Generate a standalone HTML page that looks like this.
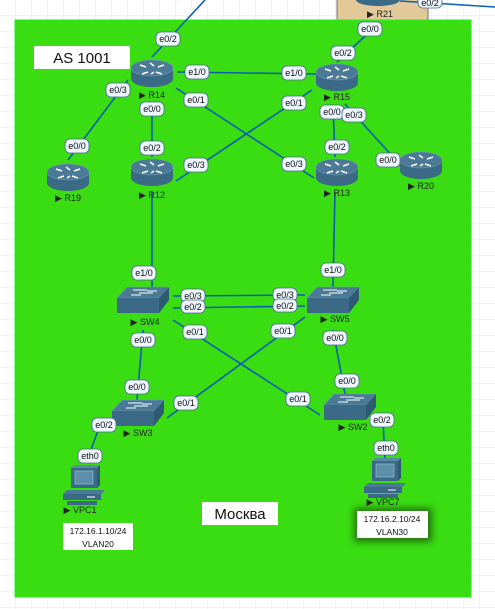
<!DOCTYPE html>
<html><head><meta charset="utf-8"><style>
body{margin:0;width:495px;height:609px;overflow:hidden;background:#fff;}
svg{display:block;font-family:"Liberation Sans",sans-serif;}
.l{fill:none;stroke:#0a5fb0;stroke-width:1.6}
.p rect{fill:#eef6ff;stroke:#4a6a8a;stroke-width:0.8}
.p text{font-size:9px;fill:#111;text-anchor:middle}
.n{font-size:9px;fill:#222;text-anchor:middle}
</style></head><body>
<svg width="495" height="609" viewBox="0 0 495 609">
<defs>
<filter id="bl" x="-30%" y="-50%" width="160%" height="200%"><feGaussianBlur stdDeviation="3.5"/></filter>
<pattern id="g" width="16" height="16" patternUnits="userSpaceOnUse"><path d="M16 0V16H0" fill="none" stroke="#e6e6e6" stroke-width="1"/></pattern>
<g id="rt">
<path d="M-21 -5 V6 A21 8 0 0 0 21 6 V-5 Z" fill="#3b6a86"/>
<ellipse cx="0" cy="-5" rx="21" ry="8" fill="#4b7a96" stroke="#6d9db6" stroke-width="0.6"/>
<path d="M-12 -8 l6 2 M-4 -1 l-6 2 M12 -8 l-6 2 M4 -1 l6 2 M-2 -10 l4 3 M2 -1 l-3 2" stroke="#fff" stroke-width="1.6"/>
</g>
<g id="sw">
<polygon points="10,0 52,0 42,11 0,11" fill="#4b7a96" stroke="#6d9db6" stroke-width="0.6"/>
<rect x="0" y="11" width="42" height="15" fill="#3b6a86"/>
<polygon points="42,11 52,0 52,13 42,26" fill="#2f5a74"/>
<path d="M16 3 h14 M22 6 h14 M14 8 h10 M30 4 h10" stroke="#fff" stroke-width="1"/>
</g>
<g id="pc">
<polygon points="2,0 28,0 31,-3 5,-3" fill="#5a8aa6"/>
<rect x="2" y="0" width="26" height="20" fill="#3b6a86"/>
<polygon points="28,0 31,-3 31,17 28,20" fill="#2f5a74"/>
<rect x="6" y="3" width="18" height="13" fill="#5d8fab" stroke="#9cc" stroke-width="0.6"/>
<polygon points="-6,26 32,26 36,22 -2,22" fill="#4b7a96"/>
<rect x="-6" y="26" width="38" height="6" fill="#3b6a86"/>
<rect x="-2" y="33" width="30" height="4" fill="#3b6a86"/>
<path d="M18 29 h8" stroke="#fff" stroke-width="1"/>
</g>
</defs>
<rect width="495" height="609" fill="url(#g)"/>
<rect x="337" y="-2" width="91" height="22" fill="#e3c99a" stroke="#555" stroke-width="0.8"/>
<path d="M356 -4 V0 A22 6 0 0 0 400 0 V-4 Z" fill="#3b6a86"/>
<text class="n" x="380" y="17">▶ R21</text>
<rect x="15" y="20" width="456" height="577" fill="#3adc12" stroke="#22f022" stroke-width="1"/>
<line class="l" x1="400" y1="1" x2="495" y2="7"/>
<g class="p"><rect x="418" y="-4" width="24" height="12" rx="5"/><text x="430" y="6">e0/2</text></g>
<g class="l">
<line x1="152" y1="57" x2="205" y2="0"/>
<line x1="177" y1="72" x2="316" y2="74"/>
<line x1="176" y1="88" x2="314" y2="178"/>
<line x1="312" y1="90" x2="176" y2="181"/>
<line x1="128" y1="80" x2="68" y2="160"/>
<line x1="152" y1="110" x2="152" y2="157"/>
<line x1="337" y1="62" x2="376" y2="26"/>
<line x1="333" y1="105" x2="335" y2="157"/>
<line x1="345" y1="104" x2="403" y2="168"/>
<line x1="152" y1="192" x2="152" y2="287"/>
<line x1="335" y1="192" x2="333" y2="287"/>
<line x1="173" y1="296" x2="305" y2="295"/>
<line x1="173" y1="308" x2="305" y2="306"/>
<line x1="173" y1="320" x2="320" y2="415"/>
<line x1="305" y1="317" x2="167" y2="418"/>
<line x1="143" y1="330" x2="137" y2="400"/>
<line x1="333" y1="330" x2="345" y2="394"/>
<line x1="100" y1="425" x2="88" y2="458"/>
<line x1="383" y1="420" x2="385" y2="460"/>
</g>
<use href="#rt" x="152" y="73"/><text class="n" x="152" y="98">▶ R14</text>
<use href="#rt" x="337" y="77"/><text class="n" x="337" y="100">▶ R15</text>
<use href="#rt" x="68" y="177"/><text class="n" x="68" y="201">▶ R19</text>
<use href="#rt" x="152" y="172"/><text class="n" x="152" y="198">▶ R12</text>
<use href="#rt" x="337" y="172"/><text class="n" x="337" y="196">▶ R13</text>
<use href="#rt" x="421" y="165"/><text class="n" x="421" y="189">▶ R20</text>
<use href="#sw" x="117" y="287"/><text class="n" x="145" y="325">▶ SW4</text>
<use href="#sw" x="307" y="287"/><text class="n" x="335" y="322">▶ SW5</text>
<use href="#sw" x="112" y="400"/><text class="n" x="138" y="436">▶ SW3</text>
<use href="#sw" x="324" y="394"/><text class="n" x="353" y="430">▶ SW2</text>
<use href="#pc" x="69" y="468"/><text class="n" x="80" y="513">▶ VPC1</text>
<use href="#pc" x="370" y="461"/><text class="n" x="383" y="505">▶ VPC7</text>
<g class="p">
<rect x="156" y="32" width="24" height="14" rx="5"/><text x="168" y="42">e0/2</text>
<rect x="106" y="83" width="24" height="14" rx="5"/><text x="118" y="93">e0/3</text>
<rect x="185" y="65" width="24" height="14" rx="5"/><text x="197" y="75">e1/0</text>
<rect x="184" y="93" width="24" height="14" rx="5"/><text x="196" y="103">e0/1</text>
<rect x="140" y="102" width="24" height="14" rx="5"/><text x="152" y="112">e0/0</text>
<rect x="65" y="139" width="24" height="14" rx="5"/><text x="77" y="149">e0/0</text>
<rect x="140" y="141" width="24" height="14" rx="5"/><text x="152" y="151">e0/2</text>
<rect x="184" y="158" width="24" height="14" rx="5"/><text x="196" y="168">e0/3</text>
<rect x="282" y="66" width="24" height="14" rx="5"/><text x="294" y="76">e1/0</text>
<rect x="282" y="96" width="24" height="14" rx="5"/><text x="294" y="106">e0/1</text>
<rect x="358" y="22" width="24" height="14" rx="5"/><text x="370" y="32">e0/0</text>
<rect x="331" y="46" width="24" height="14" rx="5"/><text x="343" y="56">e0/2</text>
<rect x="320" y="105" width="24" height="14" rx="5"/><text x="332" y="115">e0/0</text>
<rect x="342" y="108" width="24" height="14" rx="5"/><text x="354" y="118">e0/3</text>
<rect x="325" y="140" width="24" height="14" rx="5"/><text x="337" y="150">e0/2</text>
<rect x="282" y="157" width="24" height="14" rx="5"/><text x="294" y="167">e0/3</text>
<rect x="376" y="153" width="24" height="14" rx="5"/><text x="388" y="163">e0/0</text>
<rect x="132" y="266" width="24" height="14" rx="5"/><text x="144" y="276">e1/0</text>
<rect x="321" y="263" width="24" height="14" rx="5"/><text x="333" y="273">e1/0</text>
<rect x="181" y="289" width="24" height="13" rx="5"/><text x="193" y="299">e0/3</text>
<rect x="181" y="300" width="24" height="13" rx="5"/><text x="193" y="310">e0/2</text>
<rect x="273" y="288" width="24" height="13" rx="5"/><text x="285" y="298">e0/3</text>
<rect x="273" y="299" width="24" height="13" rx="5"/><text x="285" y="309">e0/2</text>
<rect x="183" y="325" width="24" height="14" rx="5"/><text x="195" y="335">e0/1</text>
<rect x="271" y="324" width="24" height="14" rx="5"/><text x="283" y="334">e0/1</text>
<rect x="131" y="333" width="24" height="14" rx="5"/><text x="143" y="343">e0/0</text>
<rect x="323" y="331" width="24" height="14" rx="5"/><text x="335" y="341">e0/0</text>
<rect x="125" y="380" width="24" height="14" rx="5"/><text x="137" y="390">e0/0</text>
<rect x="335" y="374" width="24" height="14" rx="5"/><text x="347" y="384">e0/0</text>
<rect x="92" y="418" width="24" height="14" rx="5"/><text x="104" y="428">e0/2</text>
<rect x="174" y="396" width="24" height="14" rx="5"/><text x="186" y="406">e0/1</text>
<rect x="286" y="392" width="24" height="14" rx="5"/><text x="298" y="402">e0/1</text>
<rect x="370" y="413" width="24" height="14" rx="5"/><text x="382" y="423">e0/2</text>
<rect x="78" y="449" width="24" height="14" rx="5"/><text x="90" y="459">eth0</text>
<rect x="374" y="441" width="24" height="14" rx="5"/><text x="386" y="451">eth0</text>
</g>
<rect x="34" y="46" width="96" height="23" fill="#fff"/>
<text x="82" y="63" font-size="15" text-anchor="middle" fill="#111">AS 1001</text>
<rect x="202" y="502" width="76" height="23" fill="#fff"/>
<text x="240" y="519" font-size="15" text-anchor="middle" fill="#111">Москва</text>
<rect x="63" y="523" width="70" height="27" fill="#fff"/>
<text x="98" y="534" font-size="8.5" text-anchor="middle" fill="#111">172.16.1.10/24</text>
<text x="98" y="547" font-size="8.5" text-anchor="middle" fill="#111">VLAN20</text>
<rect x="354" y="508" width="78" height="34" fill="#1e5a0a" opacity="0.8" filter="url(#bl)"/>
<rect x="357" y="511" width="71" height="27" fill="#fff"/>
<text x="392" y="522" font-size="8.5" text-anchor="middle" fill="#111">172.16.2.10/24</text>
<text x="392" y="535" font-size="8.5" text-anchor="middle" fill="#111">VLAN30</text>
</svg>
</body></html>
